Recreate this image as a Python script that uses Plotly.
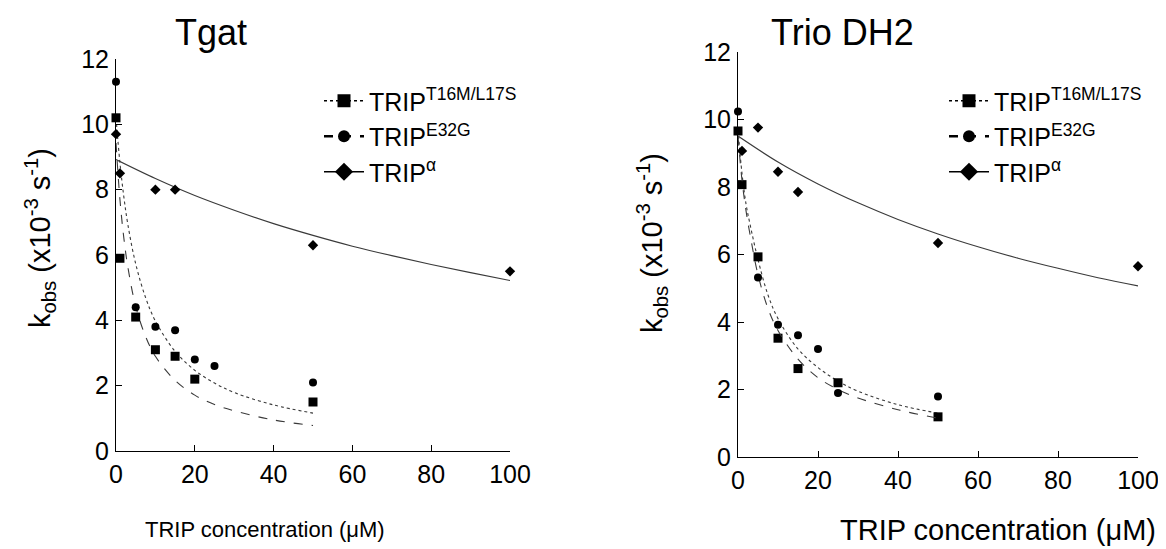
import plotly.graph_objects as go

FONT = "Arial, Liberation Sans, sans-serif"

# ---------------- data: Tgat (left) ----------------
tg_sq_x = [0, 1, 5, 10, 15, 20, 50]
tg_sq_y = [10.2, 5.9, 4.1, 3.1, 2.9, 2.2, 1.5]
tg_ci_x = [0, 5, 10, 15, 20, 25, 50]
tg_ci_y = [11.3, 4.4, 3.8, 3.7, 2.8, 2.6, 2.1]
tg_di_x = [0, 1, 10, 15, 50, 100]
tg_di_y = [9.7, 8.5, 8.0, 8.0, 6.3, 5.5]

tg_fit_x = [0, 1, 2, 3, 5, 7.5, 10, 15, 20, 25, 30, 40, 50]
tg_fit_sq = [10.2, 8.82, 7.77, 6.94, 5.73, 4.70, 3.98, 3.05, 2.47, 2.08, 1.79, 1.41, 1.16]
tg_fit_ci = [9.43, 7.70, 6.51, 5.64, 4.43, 3.51, 2.90, 2.16, 1.71, 1.42, 1.23, 0.95, 0.78]
tg_fit_di_x = [0, 10, 20, 30, 40, 50, 60, 70, 80, 90, 100]
tg_fit_di = [8.92, 8.34, 7.82, 7.37, 6.96, 6.60, 6.27, 5.98, 5.71, 5.46, 5.22]

# ---------------- data: Trio DH2 (right) ----------------
tr_sq_x = [0, 1, 5, 10, 15, 25, 50]
tr_sq_y = [9.66, 8.07, 5.93, 3.52, 2.62, 2.2, 1.19]
tr_ci_x = [0, 5, 10, 15, 20, 25, 50]
tr_ci_y = [10.24, 5.32, 3.92, 3.61, 3.2, 1.9, 1.79]
tr_di_x = [1, 5, 10, 15, 50, 100]
tr_di_y = [9.07, 9.76, 8.45, 7.85, 6.34, 5.65]

tr_fit_x = [0, 1, 2, 3, 5, 7.5, 10, 15, 20, 25, 30, 40, 50]
tr_fit_sq = [9.7, 8.4, 7.5, 6.9, 5.85, 4.8, 4.1, 3.2, 2.65, 2.25, 1.95, 1.55, 1.3]
tr_fit_ci = [9.5, 8.2, 7.3, 6.6, 5.4, 4.4, 3.75, 2.9, 2.35, 2.0, 1.75, 1.4, 1.15]
tr_fit_di_x = [0, 10, 20, 30, 40, 50, 60, 70, 80, 90, 100]
tr_fit_di = [9.51, 8.74, 8.09, 7.53, 7.04, 6.61, 6.23, 5.89, 5.59, 5.31, 5.07]

x_ticks = [0, 20, 40, 60, 80, 100]
y_ticks = [0, 2, 4, 6, 8, 10, 12]

legend_names = ["TRIP<sup>T16M/L17S</sup>", "TRIP<sup>E32G</sup>", "TRIP<sup>α</sup>"]
panel_titles = ["Tgat", "Trio DH2"]
x_title = "TRIP concentration (μM)"
y_title = "k<sub>obs</sub> (x10<sup>-3</sup> s<sup>-1</sup>)"

W, H = 1166, 549
OFF = 8  # page body margin offset of the figure div


def px_x(p):
    return (p - OFF) / W


def px_y(p):
    return 1 - (p - OFF) / H


fig = go.Figure()

line_col = "#3a3a3a"
styles = [
    dict(dash="dot", symbol="square", size=9, lsize=13),
    dict(dash="dash", symbol="circle", size=8, lsize=12),
    dict(dash="solid", symbol="diamond", size=8, lsize=14),
]


def add_panel(xa, ya, legend, pts, fits):
    for i, ((px, py), (fx, fy)) in enumerate(zip(pts, fits)):
        st = styles[i]
        fig.add_trace(go.Scatter(x=fx, y=fy, mode="lines", xaxis=xa, yaxis=ya,
                                 line=dict(color=line_col, width=1.1, dash=st["dash"], shape="spline"),
                                 showlegend=False, hoverinfo="skip"))
        fig.add_trace(go.Scatter(x=px, y=py, mode="markers", xaxis=xa, yaxis=ya,
                                 marker=dict(symbol=st["symbol"], size=st["size"], color="black"),
                                 cliponaxis=False, showlegend=False))
    for i, st in enumerate(styles):
        fig.add_trace(go.Scatter(x=[None], y=[None], mode="lines+markers", xaxis=xa, yaxis=ya,
                                 name=legend_names[i], legend=legend,
                                 line=dict(color="black", width=1.5 if st["dash"] != "dash" else 2.5,
                                           dash=st["dash"]),
                                 marker=dict(symbol=st["symbol"], size=st["lsize"], color="black")))


add_panel("x", "y", "legend",
          [(tg_sq_x, tg_sq_y), (tg_ci_x, tg_ci_y), (tg_di_x, tg_di_y)],
          [(tg_fit_x, tg_fit_sq), (tg_fit_x, tg_fit_ci), (tg_fit_di_x, tg_fit_di)])
add_panel("x2", "y2", "legend2",
          [(tr_sq_x, tr_sq_y), (tr_ci_x, tr_ci_y), (tr_di_x, tr_di_y)],
          [(tr_fit_x, tr_fit_sq), (tr_fit_x, tr_fit_ci), (tr_fit_di_x, tr_fit_di)])

axis_common = dict(showgrid=False, zeroline=False, showline=True, linecolor="black", linewidth=1,
                   ticks="inside", ticklen=6, tickcolor="black", ticklabelstandoff=1,
                   automargin=False,
                   tickfont=dict(family=FONT, size=25, color="black"))

legend_common = dict(xanchor="left", yanchor="top", bgcolor="rgba(0,0,0,0)",
                     font=dict(family=FONT, size=25, color="black"), tracegroupgap=0, itemwidth=40)

fig.update_layout(
    width=W, height=H,
    margin=dict(l=0, r=0, t=0, b=0, autoexpand=False),
    paper_bgcolor="white", plot_bgcolor="white",
    font=dict(family=FONT, color="black"),
    xaxis=dict(domain=[px_x(116), px_x(510)], range=[0, 100], tickvals=x_ticks, anchor="y", **axis_common),
    yaxis=dict(domain=[px_y(451), px_y(59)], range=[0, 12], tickvals=y_ticks, anchor="x", **axis_common),
    xaxis2=dict(domain=[px_x(738), px_x(1138)], range=[0, 100], tickvals=x_ticks, anchor="y2", **axis_common),
    yaxis2=dict(domain=[px_y(457), px_y(52)], range=[0, 12], tickvals=y_ticks, anchor="x2", **axis_common),
    legend=dict(x=px_x(319), y=px_y(78), **legend_common),
    legend2=dict(x=px_x(944), y=px_y(78), **legend_common),
    showlegend=True,
)

annots = [
    dict(text=panel_titles[0], x=px_x(211), y=px_y(33), size=36),
    dict(text=panel_titles[1], x=px_x(842), y=px_y(33), size=36),
    dict(text=x_title, x=px_x(265), y=px_y(529), size=22),
    dict(text=x_title, x=px_x(998), y=px_y(530), size=29),
]
for a in annots:
    fig.add_annotation(text=a["text"], x=a["x"], y=a["y"], xref="paper", yref="paper",
                       xanchor="center", yanchor="middle", showarrow=False,
                       font=dict(family=FONT, size=a["size"], color="black"))
for xx, yy in [(px_x(40), px_y(238)), (px_x(652), px_y(243))]:
    fig.add_annotation(text=y_title, x=xx, y=yy, xref="paper", yref="paper", textangle=-90,
                       xanchor="center", yanchor="middle", showarrow=False,
                       font=dict(family=FONT, size=29, color="black"))

fig.write_html("out.html")
